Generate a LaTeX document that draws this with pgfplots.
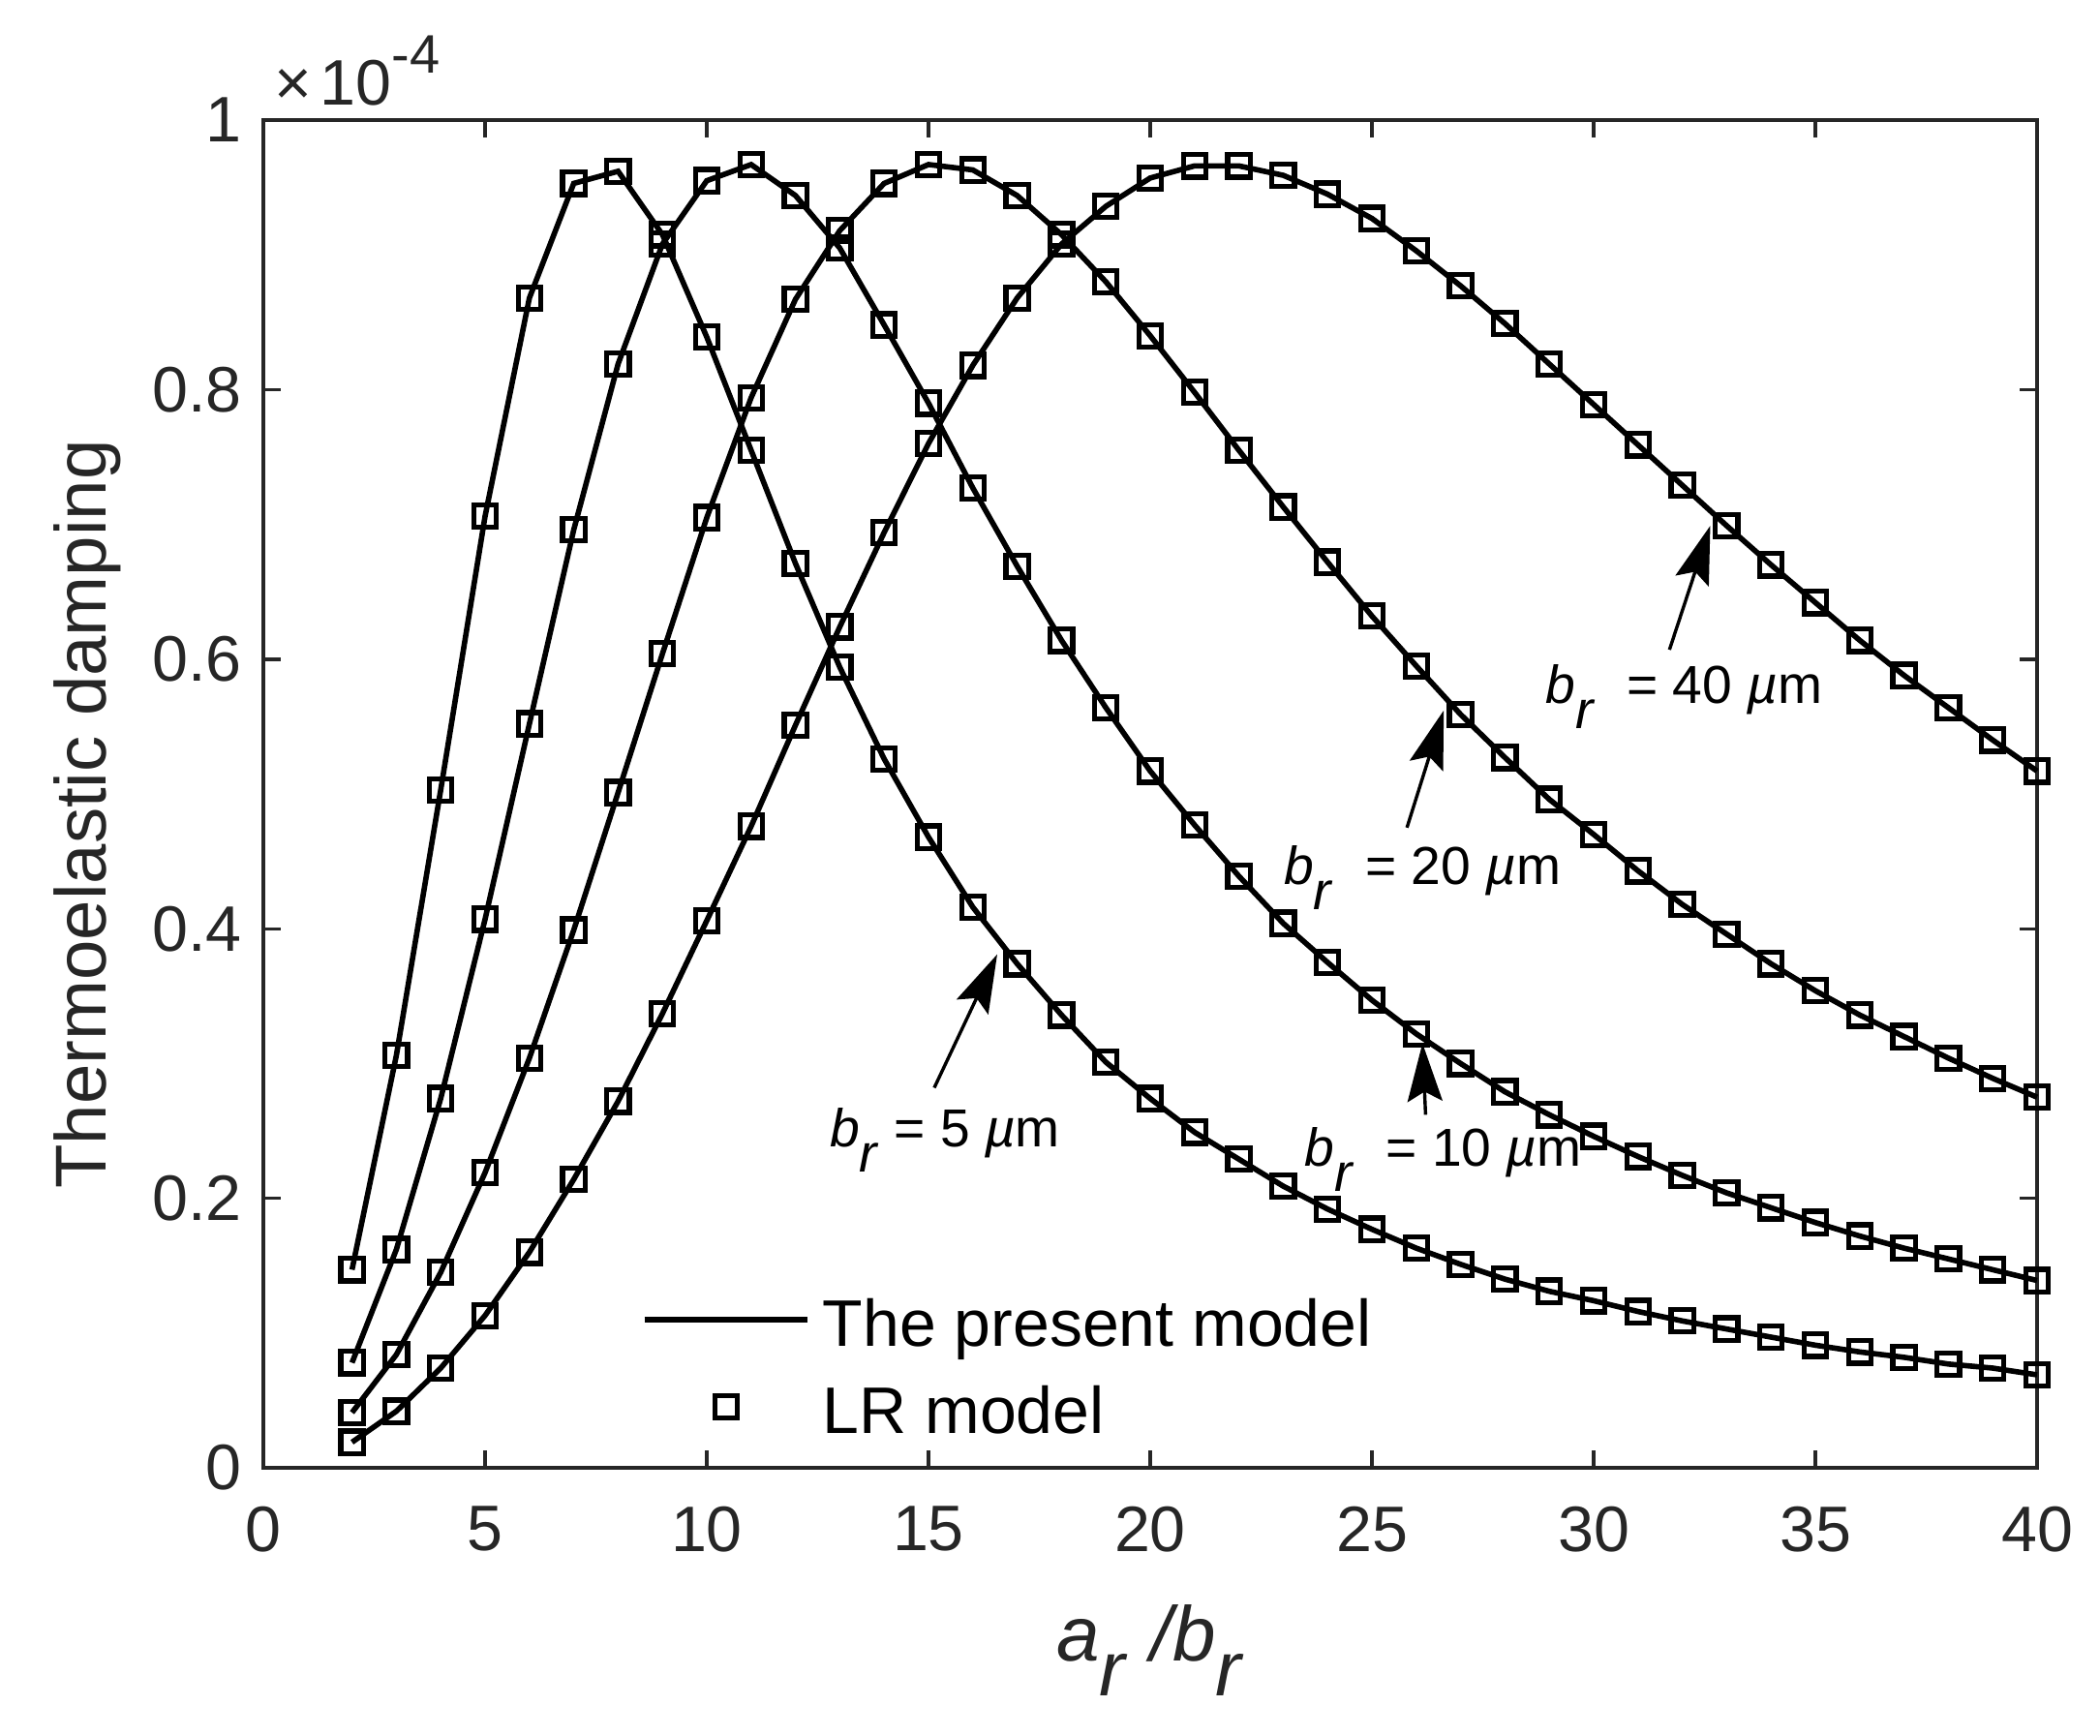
\documentclass[border=0pt]{standalone}
\usepackage{fontspec}
\setmainfont{Liberation Sans}
\usepackage{pgfplots}
\usepackage{pgfplotstable}
\pgfplotsset{compat=1.18}
\usetikzlibrary{arrows.meta}
\definecolor{axgray}{RGB}{38,38,38}
\newcommand{\sub}[1]{\raisebox{-0.46em}{\textit{#1}}}
\pgfplotstableread{
x  b5    b10   b20   b40
2  0.147 0.078 0.041 0.019
3  0.306 0.162 0.084 0.042
4  0.503 0.274 0.145 0.074
5  0.706 0.407 0.219 0.113
6  0.868 0.552 0.304 0.160
7  0.953 0.696 0.399 0.214
8  0.962 0.819 0.501 0.272
9  0.915 0.908 0.604 0.337
10 0.839 0.955 0.705 0.406
11 0.755 0.967 0.794 0.476
12 0.671 0.944 0.867 0.551
13 0.594 0.905 0.918 0.624
14 0.526 0.848 0.953 0.694
15 0.468 0.790 0.967 0.760
16 0.416 0.727 0.963 0.818
17 0.374 0.669 0.944 0.868
18 0.336 0.614 0.915 0.908
19 0.301 0.564 0.880 0.936
20 0.274 0.517 0.840 0.957
21 0.249 0.477 0.798 0.966
22 0.229 0.439 0.755 0.966
23 0.209 0.404 0.713 0.959
24 0.192 0.375 0.672 0.945
25 0.177 0.347 0.632 0.927
26 0.163 0.322 0.595 0.903
27 0.151 0.300 0.559 0.877
28 0.140 0.279 0.527 0.849
29 0.131 0.262 0.496 0.819
30 0.124 0.246 0.470 0.789
31 0.116 0.231 0.443 0.759
32 0.109 0.217 0.418 0.729
33 0.103 0.204 0.396 0.699
34 0.097 0.193 0.374 0.670
35 0.091 0.182 0.354 0.642
36 0.086 0.172 0.336 0.614
37 0.082 0.163 0.320 0.588
38 0.077 0.155 0.304 0.564
39 0.074 0.147 0.289 0.540
40 0.069 0.139 0.275 0.517
}\datatable
\pgfplotsset{
  presline/.style={black, line width=1.4pt, no markers,
    legend image code/.code={\draw[#1] (0pt,0pt) -- (42pt,0pt);}},
  lrmarks/.style={black, only marks, mark=square, mark size=2.9pt,
    mark options={line width=1.3pt, solid},
    legend image code/.code={\draw[#1] plot coordinates {(21pt,0pt)};}},
}
\tikzset{annarrow/.style={black, line width=0.85pt, -{Stealth[length=15pt,width=9pt,inset=2.5pt]}},
  anntext/.style={anchor=base west, inner sep=0pt, font=\fontsize{13.8}{16}\selectfont}}
\begin{document}
\begin{tikzpicture}
\useasboundingbox (-68pt,-69pt) rectangle (474.25pt,379pt);
\begin{axis}[
  at={(0pt,0pt)}, anchor=south west,
  width=458pt, height=348pt, scale only axis,
  xmin=0, xmax=40, ymin=0, ymax=1,
  xtick={0,5,...,40}, ytick={0,0.2,0.4,0.6,0.8,1},
  yticklabels={0,0.2,0.4,0.6,0.8,1},
  tick align=inside, major tick length=4.6pt,
  xtick pos=both, ytick pos=both,
  axis line style={draw=axgray, line width=0.85pt},
  every tick/.style={axgray, line width=0.85pt},
  /pgf/number format/assume math mode=true,
  ticklabel style={font=\fontsize{16.6}{19}\selectfont, text=axgray},
  xticklabel style={yshift=-6.5pt},
  yticklabel style={xshift=-2pt},
  xlabel={\textit{a}\sub{r}\hspace{0.3em}\textit{/b}\sub{r}},
  xlabel style={at={(axis description cs:0.5,-0.143)}, anchor=base,
    font=\fontsize{20}{24}\selectfont, text=axgray, inner sep=0pt},
  ylabel={Thermoelastic damping},
  ylabel style={at={(axis description cs:-0.099,0.485)}, anchor=center,
    font=\fontsize{18.6}{22}\selectfont, text=axgray, inner sep=0pt},
  clip=false,
  legend style={at={(axis description cs:0.2134,0.1293)}, anchor=north west,
    draw=none, fill=none, inner sep=0pt, outer sep=0pt,
    column sep=3.3pt, row sep=9pt,
    font=\fontsize{17}{20}\selectfont,
    nodes={inner sep=0pt, text height=13.5pt, text depth=0pt}},
  legend cell align=left,
]
\addplot[presline] table[x=x,y=b5] {\datatable};
\addlegendentry{The present model}
\addplot[lrmarks] table[x=x,y=b5] {\datatable};
\addlegendentry{LR model}
\addplot[presline, forget plot] table[x=x,y=b10] {\datatable};
\addplot[lrmarks, forget plot] table[x=x,y=b10] {\datatable};
\addplot[presline, forget plot] table[x=x,y=b20] {\datatable};
\addplot[lrmarks, forget plot] table[x=x,y=b20] {\datatable};
\addplot[presline, forget plot] table[x=x,y=b40] {\datatable};
\addplot[lrmarks, forget plot] table[x=x,y=b40] {\datatable};

% annotations
\draw[annarrow] (axis cs:15.13,0.282) -- (axis cs:16.55,0.381);
\node[anntext] at (axis cs:12.76,0.238)
  {\textit{b}\sub{r} = 5 \textit{µ}m};
\draw[annarrow] (axis cs:26.21,0.262) -- (axis cs:26.14,0.315);
\node[anntext] at (axis cs:23.47,0.2235)
  {\textit{b}\sub{r}\hspace{4.4pt} = 10 \textit{µ}m};
\draw[annarrow] (axis cs:25.79,0.475) -- (axis cs:26.62,0.562);
\node[anntext] at (axis cs:23.0,0.4325)
  {\textit{b}\sub{r}\hspace{4.4pt} = 20 \textit{µ}m};
\draw[annarrow] (axis cs:31.71,0.607) -- (axis cs:32.63,0.699);
\node[anntext] at (axis cs:28.9,0.567)
  {\textit{b}\sub{r}\hspace{4.4pt} = 40 \textit{µ}m};
% exponent
\node[anchor=base west, inner sep=0pt, text=axgray, font=\fontsize{16.6}{19}\selectfont]
  at ([xshift=2.75pt,yshift=4pt]rel axis cs:0,1)
  {×\hspace{2pt}10\raisebox{8.2pt}{\fontsize{14}{16}\selectfont -4}};
\end{axis}
\end{tikzpicture}
\end{document}
